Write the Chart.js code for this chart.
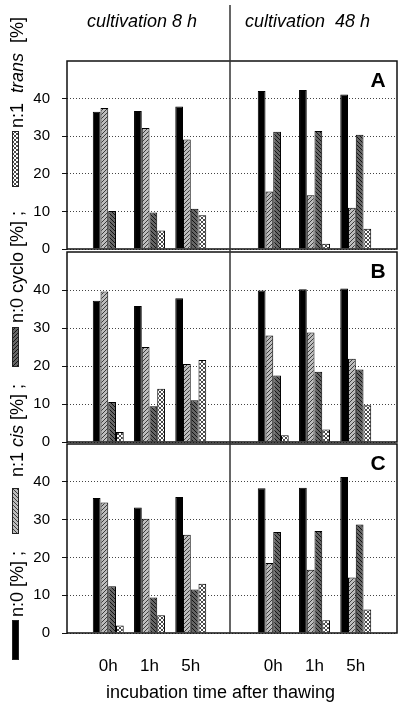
<!DOCTYPE html>
<html>
<head>
<meta charset="utf-8">
<script src="https://cdn.jsdelivr.net/npm/chart.js@4.4.1/dist/chart.umd.min.js"></script>
<style>
    body { margin: 0; width: 404px; height: 704px; position: relative; overflow: hidden; background: #fff;
           font-family: "Liberation Sans", Arial, sans-serif; color: #000; }
    canvas { position: absolute; left: 0; top: 0; }
    .coltitle { position: absolute; top: 11px; line-height: 20px; font-size: 18px; font-style: italic; white-space: pre; }
    #xtitle { position: absolute; left: 106px; top: 682px; line-height: 20px; font-size: 18px; white-space: nowrap; }
    #legend { position: absolute; left: 7px; top: 660px; width: 640px; height: 20px;
              transform-origin: 0 0; transform: rotate(-90deg); font-size: 18px; }
    #legend .key { position: absolute; top: 5px; height: 7px; box-sizing: border-box; border: 1px solid #222; }
    #legend .lbl { position: absolute; top: 0; line-height: 20px; white-space: pre; }
</style>
</head>
<body>
<canvas id="chart-a" width="404" height="704"></canvas>
<canvas id="chart-b" width="404" height="704"></canvas>
<canvas id="chart-c" width="404" height="704"></canvas>

<div class="coltitle" style="left:87px">cultivation 8 h</div>
<div class="coltitle" style="left:245px">cultivation  48 h</div>
<div id="xtitle">incubation time after thawing</div>

<div id="legend">
    <span class="key" id="key-n0" style="left:0;width:40px"></span>
    <span class="lbl" style="left:43px">n:0 [%] ;</span>
    <span class="key" id="key-cis" style="left:126px;width:46px"></span>
    <span class="lbl" style="left:183px">n:1 <i>cis</i> [%] ;</span>
    <span class="key" id="key-cyclo" style="left:293px;width:40px"></span>
    <span class="lbl" style="left:337px">n:0 cyclo [%] ;</span>
    <span class="key" id="key-trans" style="left:473px;width:56px"></span>
    <span class="lbl" style="left:532px">n:1  <i>trans</i>  [%]</span>
</div>

<script>
// ========== 数据 ==========
// 每组 6 个值: cultivation 8 h (0h, 1h, 5h), 然后 cultivation 48 h (0h, 1h, 5h)
const timeLabels = ['0h', '1h', '5h'];
const yTicks = [0, 10, 20, 30, 40];

// 面板 A
const n0A    = [36.5, 36.7, 37.9, 42.0, 42.3, 41.1];
const cisA   = [37.5, 32.2, 29.1, 15.3, 14.3, 11.0];
const cycloA = [10.1, 9.7, 10.7, 31.2, 31.4, 30.4];
const transA = [0, 4.9, 9.0, 0, 1.4, 5.4];

// 面板 B
const n0B    = [37.2, 35.8, 37.8, 39.9, 40.2, 40.4];
const cisB   = [39.6, 25.0, 20.5, 28.0, 28.8, 21.9];
const cycloB = [10.5, 9.4, 11.0, 17.5, 18.5, 19.1];
const transB = [2.6, 14.0, 21.6, 1.8, 3.3, 9.7];

// 面板 C
const n0C    = [35.7, 33.2, 36.0, 38.3, 38.4, 41.3];
const cisC   = [34.5, 30.2, 26.0, 18.5, 16.7, 14.7];
const cycloC = [12.4, 9.4, 11.5, 26.7, 27.0, 28.7];
const transC = [2.0, 4.7, 13.0, 0, 3.4, 6.2];

// 9 个类别槽位: 空, 8h 的三个时间, 分隔, 48h 的三个时间, 空
const slotLabels = ['', ...timeLabels, '', ...timeLabels, ''];
function toSlots(arr) {
    return [null, arr[0], arr[1], arr[2], null, arr[3], arr[4], arr[5], null];
}

// ========== 填充图案 ==========
function makePattern(bg, line, rule) {
    const c = document.createElement('canvas');
    c.width = 4;
    c.height = 4;
    const g = c.getContext('2d');
    g.fillStyle = bg;
    g.fillRect(0, 0, 4, 4);
    g.fillStyle = line;
    for (let x = 0; x < 4; x++) {
        for (let y = 0; y < 4; y++) {
            if (rule(x, y)) g.fillRect(x, y, 1, 1);
        }
    }
    return c;
}

const cisTile = makePattern('#bdbdbd', '#3c3c3c', (x, y) => (x + y) % 4 === 3);
const cycloTile = makePattern('#666666', '#141414', (x, y) => (x - y + 4) % 4 === 0);
const transTile = makePattern('#ffffff', '#4a4a4a', (x, y) => (x + y) % 4 === 3 || (x - y + 4) % 4 === 0);

const patCtx = document.createElement('canvas').getContext('2d');
const cisFill = patCtx.createPattern(cisTile, 'repeat');
const cycloFill = patCtx.createPattern(cycloTile, 'repeat');
const transFill = patCtx.createPattern(transTile, 'repeat');

// 图例方块
document.getElementById('key-n0').style.background = '#000';
document.getElementById('key-cis').style.backgroundImage = 'url(' + cisTile.toDataURL() + ')';
document.getElementById('key-cyclo').style.backgroundImage = 'url(' + cycloTile.toDataURL() + ')';
document.getElementById('key-trans').style.backgroundImage = 'url(' + transTile.toDataURL() + ')';

Chart.defaults.font.family = '"Liberation Sans", Arial, sans-serif';
Chart.defaults.color = '#000';

// 边框, 面板字母, 中间分隔线
const framePlugin = {
    id: 'frame',
    afterDraw(chart, args, opts) {
        const { ctx, chartArea: a, scales } = chart;
        ctx.save();
        ctx.strokeStyle = '#111';
        ctx.lineWidth = 1.5;
        ctx.strokeRect(a.left, a.top, a.right - a.left, a.bottom - a.top);

        const x = scales.x.getPixelForValue(4) - 2;
        ctx.strokeStyle = '#333';
        ctx.beginPath();
        ctx.moveTo(x, opts.dividerTop != null ? opts.dividerTop : a.top - 3);
        ctx.lineTo(x, a.bottom);
        ctx.stroke();

        ctx.fillStyle = '#000';
        ctx.font = 'bold 21px "Liberation Sans", Arial, sans-serif';
        ctx.textAlign = 'center';
        ctx.textBaseline = 'middle';
        ctx.fillText(opts.letter, a.right - 19, a.top + 20);
        ctx.restore();
    }
};

function drawPanel(id, letter, n0, cis, cyclo, trans, top, bottom, showX, dividerTop) {
    const ctx = document.getElementById(id);
    const common = {
        borderColor: '#000',
        borderWidth: 1,
        barPercentage: 1,
        categoryPercentage: 0.75
    };
    return new Chart(ctx, {
        type: 'bar',
        data: {
            labels: slotLabels,
            datasets: [
                { ...common, label: 'n:0', data: toSlots(n0), backgroundColor: '#000' },
                { ...common, label: 'n:1 cis', data: toSlots(cis), backgroundColor: cisFill },
                { ...common, label: 'n:0 cyclo', data: toSlots(cyclo), backgroundColor: cycloFill },
                { ...common, label: 'n:1 trans', data: toSlots(trans), backgroundColor: transFill }
            ]
        },
        plugins: [framePlugin],
        options: {
            responsive: false,
            animation: false,
            layout: { padding: { top: top, bottom: showX ? 0 : 704 - bottom, left: 0, right: 7 } },
            plugins: {
                legend: { display: false },
                tooltip: { enabled: false },
                frame: { letter: letter, dividerTop: dividerTop }
            },
            scales: {
                x: {
                    display: showX,
                    offset: false,
                    grid: { display: false },
                    border: { display: false },
                    ticks: { autoSkip: false, maxRotation: 0, padding: 15, font: { size: 17 } },
                    afterFit: s => {
                        if (!showX) return;
                        s.height = 704 - bottom;
                        s.paddingLeft = 0;
                        s.paddingRight = 0;
                    }
                },
                y: {
                    min: 0,
                    max: 50,
                    afterBuildTicks: s => { s.ticks = yTicks.map(v => ({ value: v })); },
                    afterFit: s => { s.width = 67; s.paddingTop = 0; s.paddingBottom = 0; },
                    grid: { color: '#444', lineWidth: 1, tickLength: 5, tickColor: '#111', tickBorderDash: [] },
                    border: { display: false, dash: [1, 2] },
                    ticks: { padding: 12, font: { size: 15 } }
                }
            }
        }
    });
}

drawPanel('chart-a', 'A', n0A, cisA, cycloA, transA, 61, 249, false, 5);
drawPanel('chart-b', 'B', n0B, cisB, cycloB, transB, 252, 442, false, null);
drawPanel('chart-c', 'C', n0C, cisC, cycloC, transC, 444, 633, true, null);
</script>
</body>
</html>
